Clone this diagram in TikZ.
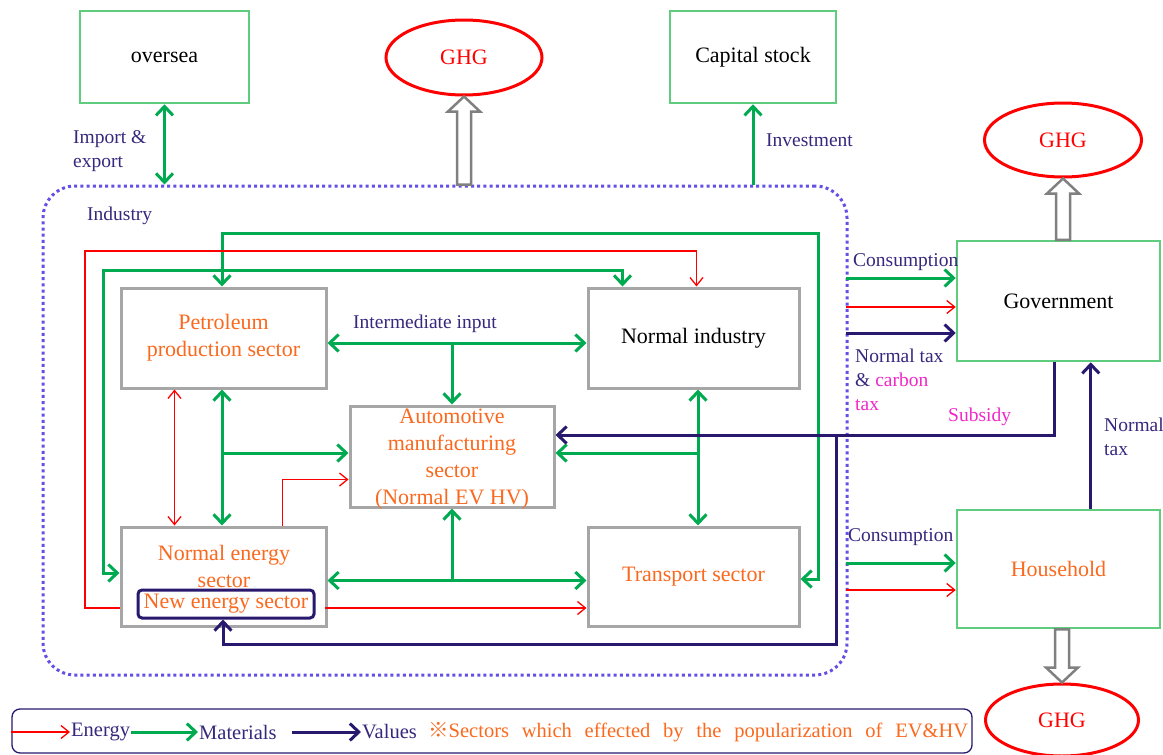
\documentclass[tikz,border=0pt]{standalone}
\usepackage{fontspec}
\setmainfont{Liberation Serif}
\newfontfamily\cjkfont{Noto Sans CJK JP}
\usetikzlibrary{arrows.meta,calc,shapes.geometric}
\definecolor{gboxc}{RGB}{95,205,125}
\definecolor{grn}{RGB}{0,170,80}
\definecolor{navy}{RGB}{40,25,110}
\definecolor{lbl}{RGB}{55,40,125}
\definecolor{orng}{RGB}{250,105,30}
\definecolor{mag}{RGB}{240,40,200}
\definecolor{dotc}{RGB}{100,80,230}
\definecolor{boxgray}{RGB}{166,166,166}
\definecolor{hgray}{RGB}{128,128,128}
\newcommand{\hollowarrow}[3]{\draw[hollow] ($(#1)+(-7,0)$) -- ($(#2)+(-7,#3*15)$) -- ($(#2)+(-16,#3*15)$) -- (#2) -- ($(#2)+(16,#3*15)$) -- ($(#2)+(7,#3*15)$) -- ($(#1)+(7,0)$) -- cycle;}
\tikzset{
  x=1pt, y=-1pt,
  bigfont/.style={font=\fontsize{22}{27}\selectfont},
  gbox/.style={draw=gboxc, line width=2.5pt, fill=white, bigfont, align=center},
  sbox/.style={draw=boxgray, line width=3pt, fill=white, bigfont, align=center},
  otext/.style={text=orng, bigfont, align=center, inner sep=0pt},
  ghg/.style={ellipse, draw=red, line width=3pt, fill=white, text=red, bigfont, inner sep=0pt},
  lab/.style={text=lbl, font=\fontsize{19.5}{24}\selectfont, align=left, inner sep=0pt},
  legtxt/.style={text=lbl, font=\fontsize{20.5}{24}\selectfont, inner sep=1pt},
  gline/.style={draw=grn, line width=3pt, >={Straight Barb[length=9pt,width=17pt]}},
  rline/.style={draw=red, line width=1.3pt, >={Straight Barb[length=8pt,width=13pt]}},
  vline/.style={draw=navy, line width=3pt, >={Straight Barb[length=9pt,width=17pt]}},
  hollow/.style={draw=hgray, fill=white, line width=2.5pt, line join=miter}
}
\begin{document}
\begin{tikzpicture}
\useasboundingbox (0,0) rectangle (1163,755);

% industry frame
\node[draw=dotc, line width=3pt, dash pattern=on 3pt off 3.2pt, rounded corners=32pt,
      minimum width=804pt, minimum height=489pt] (industry) at (445,430.5) {};
\node[lab, anchor=west] (indlab) at (87,216) {Industry};

% outer boxes
\node[gbox, minimum width=169pt, minimum height=92pt] (oversea) at (164.5,57) {oversea};
\node[gbox, minimum width=166pt, minimum height=92pt] (capital) at (753,57) {Capital stock};
\node[gbox, minimum width=203pt, minimum height=120pt] (gov) at (1058.5,301) {Government};
\node[gbox, minimum width=203pt, minimum height=118pt, text=orng] (house) at (1058.5,569) {Household};
\node[ghg, minimum width=156pt, minimum height=75pt] (ghgA) at (464,57.5) {GHG};
\node[ghg, minimum width=157pt, minimum height=74pt] (ghgB) at (1063,140) {GHG};
\node[ghg, minimum width=153pt, minimum height=72pt] (ghgC) at (1062,720) {GHG};

% sector boxes
\node[sbox, minimum width=205pt, minimum height=100pt, text=orng] (petro) at (223.5,338) {Petroleum\\production sector};
\node[sbox, minimum width=211pt, minimum height=100pt] (normind) at (693.5,338) {Normal industry};
\node[sbox, minimum width=204pt, minimum height=101pt] (auto) at (452,456.5) {};
\node[sbox, minimum width=205pt, minimum height=99pt] (energy) at (223.5,576.5) {};
\node[sbox, minimum width=211pt, minimum height=99pt, text=orng] (transport) at (693.5,576.5) {Transport sector};
\node[draw=navy, line width=3pt, rounded corners=4pt, minimum width=176pt, minimum height=28pt, inner sep=0pt,
      otext] (newenergy) at (226,604) {New energy sector};
\node[otext] (autotxt) at (452,459) {Automotive\\manufacturing\\sector\\(Normal EV HV)};
\node[otext] (energytxt) at (224,566) {Normal energy\\sector};

% waypoints
\coordinate (g1) at (818,233);
\coordinate (g2) at (103,270);
\coordinate (r1) at (85,251);
\coordinate (ii) at (452,343);
\coordinate (b1) at (222,453);
\coordinate (b2) at (698,453);
\coordinate (b3) at (452,580.5);
\coordinate (c1) at (836,435);
\coordinate (c2) at (836,644);

% materials (green)
\draw[gline,<->] ($(petro.north)+(-1.5,0)$) |- (g1) |- ($(transport.east)+(0,2.5)$);
\draw[gline,<->] ($(energy.west)+(0,-3.5)$) -| (g2) -| ($(normind.north west)+(36,0)$);
\draw[gline,<->] ($(petro.east)+(0,5)$) -- ($(normind.west)+(0,5)$);
\draw[gline,->] (ii) -- (auto.north);
\draw[gline,<->] ($(petro.south)+(-1.5,0)$) -- ($(energy.north)+(-1.5,0)$);
\draw[gline,->] (b1) -- (b1 -| auto.west);
\draw[gline,<->] ($(normind.south)+(4.5,0)$) -- ($(transport.north)+(4.5,0)$);
\draw[gline,->] (b2) -- (b2 -| auto.east);
\draw[gline,<->] ($(energy.east)+(0,4)$) -- ($(transport.west)+(0,4)$);
\draw[gline,->] (b3) -- (auto.south);

% energy (red)
\draw[rline,->] ($(energy.west)+(0,31.5)$) -| (r1) -| ($(normind.north west)+(110,0)$);
\draw[rline,<->] ($(petro.south west)+(55,0)$) -- ($(energy.north west)+(55,0)$);
\draw[rline,->] ($(energy.north west)+(163,0)$) |- ($(auto.west)+(0,23)$);
\draw[rline,->] ($(energy.east)+(-3,31.5)$) -- ($(transport.west)+(0,31.5)$);

% values (navy)
\draw[vline,->] ($(gov.south west)+(99,0)$) |- (c1) -- ($(auto.east)+(0,-21.5)$);
\draw[vline,->] (c1) -- (c2) -| ($(newenergy.south)+(-3,0)$);
\draw[vline,->] ($(house.north west)+(135,0)$) -- ($(gov.south west)+(135,0)$);

% to government and household
\draw[gline,->] ($(gov.west)+(-110,-23)$) -- ($(gov.west)+(0,-23)$);
\draw[rline,->] ($(gov.west)+(-110,6)$) -- ($(gov.west)+(0,6)$);
\draw[vline,->] ($(gov.west)+(-110,32)$) -- ($(gov.west)+(0,32)$);
\draw[gline,->] ($(house.west)+(-110,-6)$) -- ($(house.west)+(0,-6)$);
\draw[rline,->] ($(house.west)+(-110,21)$) -- ($(house.west)+(0,21)$);

% outside links
\draw[gline,<->] (oversea.south) -- (oversea.south |- industry.north);
\draw[gline,->] (capital.south |- industry.north) -- (capital.south);

% hollow GHG arrows
\coordinate (hA) at (ghgA.south |- industry.north);
\coordinate (hB) at (ghgB.south |- gov.north);
\coordinate (hC) at (ghgC.north |- house.south);
\hollowarrow{hA}{ghgA.south}{1}
\hollowarrow{hB}{ghgB.south}{1}
\hollowarrow{hC}{ghgC.north}{-1}

% labels
\node[lab, anchor=west] (implab) at (73,151.5) {Import \&\\export};
\node[lab, anchor=west] (invlab) at (766,140) {Investment};
\node[lab, anchor=west] (intlab) at (353,324) {Intermediate input};
\node[lab, anchor=west] (conlabA) at (853,262) {Consumption};
\node[lab, anchor=west] (conlabB) at (848,537) {Consumption};
\node[lab, anchor=north west] (taxlab) at (855,349) {Normal tax\\\& \textcolor{mag}{carbon}\\\textcolor{mag}{tax}};
\node[lab, anchor=west, text=mag] (sublab) at (948,417) {Subsidy};
\node[lab, anchor=west] (ntaxlab) at (1104,436.5) {Normal\\tax};

% legend
\node[draw=navy, line width=1.3pt, rounded corners=8pt, minimum width=960pt, minimum height=44pt] (legend) at (492,731) {};
\node[legtxt, anchor=west] (lE) at (70,732) {Energy};
\node[legtxt, anchor=west] (lM) at (198,732) {Materials};
\node[legtxt, anchor=west] (lV) at (361,732) {Values};
\node[legtxt, anchor=west, text=orng] (lS) at (427,732) {\makebox[540pt][s]{{\cjkfont ※}Sectors which effected by the popularization of EV\&HV}};
\draw[rline,->] (legend.west |- lE.west) -- (lE.west);
\draw[gline,->] (lE.east) -- (lM.west);
\draw[vline,->] ($(lM.east)+(14,0)$) -- (lV.west);
\end{tikzpicture}
\end{document}
